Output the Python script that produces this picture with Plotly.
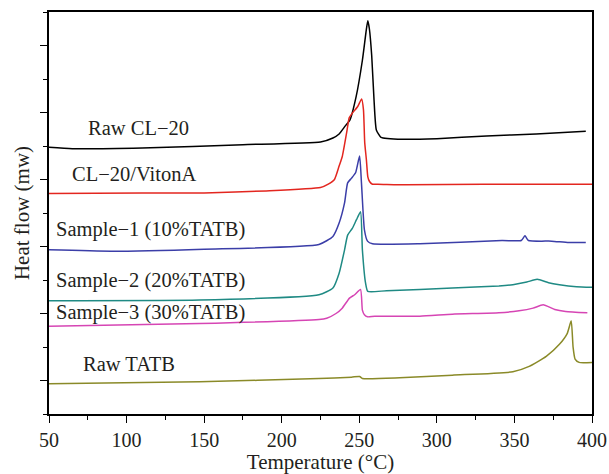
import plotly.graph_objects as go

# ---------------- data (temperature in °C, heat flow in arbitrary offset units) ----------------
raw_cl20_T = [50, 65, 110, 175, 225, 233, 237, 241, 244, 248, 252, 254.5, 255.5, 256.5, 258,
              259.5, 261, 264, 278, 300, 332, 364, 396]
raw_cl20_v = [3.48, 3.46, 3.47, 3.52, 3.56, 3.62, 3.68, 3.80, 3.89, 4.24, 4.78, 5.23, 5.37, 5.25,
              4.85, 4.19, 3.74, 3.63, 3.60, 3.61, 3.65, 3.68, 3.72]

viton_T = [50, 110, 150, 190, 225, 230, 234, 237, 239, 242, 243.5, 245.5, 249, 251.5, 252.7,
           253.5, 254.6, 255.5, 256.6, 258.5, 262, 280, 330, 400]
viton_v = [2.79, 2.80, 2.80, 2.83, 2.88, 2.93, 3.00, 3.20, 3.34, 3.72, 3.92, 3.99, 4.09, 4.20,
           4.04, 3.55, 3.29, 3.04, 2.97, 2.93, 2.93, 2.92, 2.93, 2.93]

s1_T = [50, 90, 150, 224, 233, 237, 240.5, 242.5, 245, 247.6, 250.2, 251.4, 253.3, 255.3, 258.5,
        289, 342, 354.4, 356.8, 359, 374, 385, 396]
s1_v = [1.95, 1.93, 1.96, 2.03, 2.15, 2.35, 2.65, 2.95, 3.02, 3.10, 3.35, 2.95, 2.25, 2.08, 2.04,
        2.04, 2.09, 2.09, 2.16, 2.09, 2.08, 2.06, 2.06]

s2_T = [50, 147, 224, 233, 237, 240.5, 242.5, 245.5, 248.2, 250.8, 252, 254, 255.5, 267.5, 310,
        340, 349, 358, 364.7, 372, 379, 390, 400]
s2_v = [1.19, 1.20, 1.28, 1.38, 1.60, 1.95, 2.17, 2.27, 2.40, 2.52, 1.95, 1.46, 1.33, 1.34, 1.38,
        1.41, 1.43, 1.47, 1.51, 1.46, 1.43, 1.40, 1.39]

s3_T = [50, 147, 224, 229, 235, 239, 243.7, 247, 250.8, 252, 253.3, 255.3, 260, 289, 310, 340,
        353, 362, 368.5, 376, 383, 397]
s3_v = [0.81, 0.85, 0.91, 0.93, 1.00, 1.08, 1.23, 1.28, 1.36, 1.05, 0.98, 0.95, 0.96, 0.96, 0.99,
        1.01, 1.04, 1.08, 1.13, 1.06, 1.03, 1.01]

tatb_T = [50, 147, 224, 245, 250.2, 252, 276, 310, 349, 359.5, 370.5, 379, 384, 386.6, 387.8,
          389.1, 391.7, 400]
tatb_v = [-0.05, -0.02, 0.03, 0.05, 0.06, 0.03, 0.04, 0.08, 0.13, 0.21, 0.36, 0.54, 0.70, 0.89,
          0.50, 0.32, 0.27, 0.27]

series_names = ["Raw CL\u221220", "CL\u221220/VitonA", "Sample\u22121 (10%TATB)",
                "Sample\u22122 (20%TATB)", "Sample\u22123 (30%TATB)", "Raw TATB"]
series_T = [raw_cl20_T, viton_T, s1_T, s2_T, s3_T, tatb_T]
series_v = [raw_cl20_v, viton_v, s1_v, s2_v, s3_v, tatb_v]
colors = ["#000000", "#e3261f", "#3b3ea8", "#1f8a84", "#d645b4", "#8a8a28"]

# label anchor positions (data coords)
label_T = [73.6, 63.5, 53.2, 53.2, 53.2, 70.8]
label_v = [3.77, 3.08, 2.26, 1.50, 1.01, 0.25]

x_ticks = [50, 100, 150, 200, 250, 300, 350, 400]

FONT = "Liberation Serif"
TXT = "#231f20"

fig = go.Figure()
for T, v, c, n in zip(series_T, series_v, colors, series_names):
    fig.add_trace(go.Scatter(x=T, y=v, mode="lines", name=n,
                             line=dict(color=c, width=1.5, shape="spline", smoothing=0.5),
                             showlegend=False))

for n, lx, ly in zip(series_names, label_T, label_v):
    fig.add_annotation(x=lx, y=ly, text=n, showarrow=False, xanchor="left", yanchor="middle",
                       font=dict(family=FONT, size=20.5, color=TXT))

fig.update_layout(
    width=609, height=474,
    margin=dict(l=49, r=17, t=12, b=60),
    paper_bgcolor="white", plot_bgcolor="white",
    font=dict(family=FONT, size=20, color=TXT),
)
fig.update_xaxes(
    range=[50, 400], tickvals=x_ticks, ticktext=[str(t) for t in x_ticks],
    ticks="outside", ticklen=7, tickwidth=1.2, tickcolor="black",
    minor=dict(ticks="outside", ticklen=4, dtick=25, tick0=50, tickcolor="black", tickwidth=1.2),
    showline=True, linecolor="black", linewidth=1.5, mirror=True,
    showgrid=False, zeroline=False, automargin=False,
    title=dict(text="Temperature (°C)", font=dict(family=FONT, size=21, color=TXT), standoff=4),
    tickfont=dict(family=FONT, size=20, color=TXT),
)
fig.update_yaxes(
    range=[-0.5, 5.5], tickmode="linear", tick0=0, dtick=1, showticklabels=False,
    ticks="outside", ticklen=7, tickwidth=1.2, tickcolor="black",
    minor=dict(ticks="outside", ticklen=4, dtick=0.5, tick0=0, tickcolor="black", tickwidth=1.2),
    showline=True, linecolor="black", linewidth=1.5, mirror=True,
    showgrid=False, zeroline=False, automargin=False,
    title=dict(text="Heat flow (mw)", font=dict(family=FONT, size=21, color=TXT), standoff=5),
)

fig.write_html("out.html")
